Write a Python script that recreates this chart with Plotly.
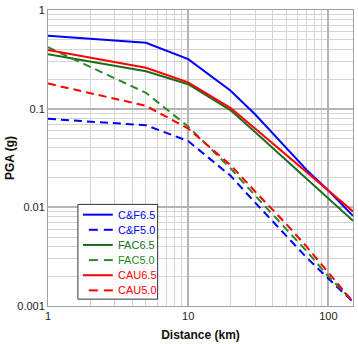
import plotly.graph_objects as go

# Data
dist = [1, 5, 10, 20, 30, 50, 70, 100, 150]
cf65 = [0.55, 0.466, 0.318, 0.153, 0.088, 0.040, 0.024, 0.0148, 0.0082]
cf50 = [0.079, 0.068, 0.047, 0.021, 0.0112, 0.0052, 0.0031, 0.0019, 0.0011]
fac65 = [0.356, 0.24, 0.177, 0.097, 0.058, 0.030, 0.0195, 0.0123, 0.0073]
fac50 = [0.42, 0.145, 0.066, 0.025, 0.0132, 0.0061, 0.0036, 0.0020, 0.00112]
cau65 = [0.394, 0.26, 0.185, 0.102, 0.063, 0.0343, 0.0229, 0.0148, 0.0091]
cau50 = [0.18, 0.107, 0.063, 0.027, 0.0145, 0.0068, 0.0040, 0.0022, 0.0011]

names = ["C&amp;F6.5", "C&amp;F5.0", "FAC6.5", "FAC5.0", "CAU6.5", "CAU5.0"]
values = [cf65, cf50, fac65, fac50, cau65, cau50]
colors = ["#0000ff", "#0000ff", "#1a6b1a", "#2a8a2a", "#ff0000", "#ff0000"]
dashes = ["solid", "8px,5px", "solid", "8px,5px", "solid", "8px,5px"]

W, H = 358, 344
L, R, T, B = 48, 4, 6, 35
PW, PH = W - L - R, H - T - B

def px(x):
    return (x - L) / PW

def py(y):
    return (H - B - y) / PH

fig = go.Figure()
for name, vals, col, dash in zip(names, values, colors, dashes):
    fig.add_trace(go.Scatter(
        x=dist, y=vals, mode="lines", name=name, showlegend=False,
        line=dict(color=col, width=2, dash=dash),
    ))

# manual legend (compact spacing as in the reference)
shapes = [dict(type="rect", xref="paper", yref="paper",
               x0=px(78), x1=px(158), y0=py(302), y1=py(205),
               fillcolor="white", line=dict(color="#333", width=1), layer="above")]
annotations = []
row_y = [215.5, 231, 246.5, 262, 277.5, 293]
for name, col, dash, yy in zip(names, colors, dashes, row_y):
    if dash == "solid":
        shapes.append(dict(type="line", xref="paper", yref="paper",
                           x0=px(83), x1=px(113), y0=py(yy), y1=py(yy),
                           line=dict(color=col, width=2), layer="above"))
    else:
        for a, b in ((89, 98), (104, 113)):
            shapes.append(dict(type="line", xref="paper", yref="paper",
                               x0=px(a), x1=px(b), y0=py(yy), y1=py(yy),
                               line=dict(color=col, width=2), layer="above"))
    annotations.append(dict(xref="paper", yref="paper", x=px(116), y=py(yy),
                            xanchor="left", yanchor="middle", showarrow=False,
                            text=name, font=dict(size=11, color=col)))

fig.update_layout(
    width=W, height=H,
    margin=dict(l=L, r=R, t=T, b=B),
    paper_bgcolor="white", plot_bgcolor="white",
    font=dict(family="Liberation Sans, Arial, sans-serif", size=11, color="#222"),
    showlegend=False,
    shapes=shapes, annotations=annotations,
)
fig.update_xaxes(
    type="log", range=[0, 2.176],
    tickvals=[1, 10, 100], ticktext=["1", "10", "100"],
    showgrid=True, gridcolor="#b4b4b4", gridwidth=1.5,
    minor=dict(showgrid=True, gridcolor="#d4d4d4", gridwidth=1,
               tickvals=[2, 3, 4, 5, 6, 7, 8, 9, 20, 30, 40, 50, 60, 70, 80, 90, 150]),
    showline=True, linecolor="#a0a0a0", linewidth=1, mirror=True,
    ticks="", zeroline=False,
    title=dict(text="<b>Distance (km)</b>", font=dict(size=12, color="#111"), standoff=9),
)
fig.update_yaxes(
    type="log", range=[-3, 0.001],
    tickvals=[0.001, 0.01, 0.1, 1], ticktext=["0.001", "0.01", "0.1", "1"],
    showgrid=True, gridcolor="#b4b4b4", gridwidth=1.5,
    minor=dict(showgrid=True, gridcolor="#d4d4d4", gridwidth=1,
               tickvals=[k * 10 ** e for e in (-3, -2, -1) for k in range(2, 10)]),
    showline=True, linecolor="#a0a0a0", linewidth=1, mirror=True,
    ticks="", zeroline=False,
    ticklabeloverflow="allow",
    title=dict(text="<b>PGA (g)</b>", font=dict(size=12, color="#111"), standoff=0),
)

fig.write_html("out.html", config={"displayModeBar": False},
               post_script="document.body.style.margin='0';document.body.style.overflow='hidden';")
